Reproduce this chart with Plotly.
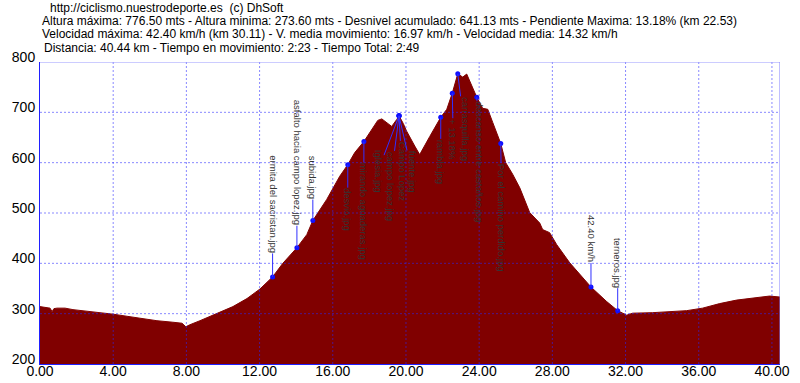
import plotly.graph_objects as go

# ---- profile data (km, elevation m) ----
km = [0.00, 0.55, 0.66, 0.76, 0.93, 1.37, 1.80, 2.73, 3.66, 3.99, 5.46, 6.39, 7.26, 7.76, 7.97,
      8.19, 8.74, 9.67, 10.54, 11.31, 12.02, 12.71, 13.27, 14.04, 14.58, 14.91, 15.46, 15.67,
      16.38, 16.82, 17.20, 17.70, 18.08, 18.46, 18.68, 18.95, 19.22, 19.50, 19.62, 19.85, 20.03,
      20.48, 20.75, 21.30, 21.90, 22.23, 22.53, 22.83, 23.10, 23.32, 23.59, 23.87, 24.19, 24.47,
      24.74, 25.18, 25.45, 25.83, 26.22, 26.76, 27.31, 27.47, 27.85, 28.24, 28.95, 30.11, 30.97,
      31.57, 32.06, 32.39, 33.48, 35.34, 36.21, 37.14, 38.07, 38.94, 39.87, 40.44]
elev = [314, 311, 304, 310, 311, 311, 308, 304, 301, 299, 291, 286, 283, 281, 274,
        278, 286, 300, 314, 330, 349, 373, 400, 431, 457, 485, 517, 527,
        573, 596, 620, 642, 663, 684, 687, 680, 672, 686, 693, 678, 663,
        633, 616, 652, 690, 706, 738, 776.5, 770, 776, 752, 730, 708, 706,
        680, 638, 600, 577, 550, 501, 480, 467, 461, 437, 401, 353, 324,
        306, 297, 301, 302, 306, 311, 320, 327, 331, 335, 333]

# ---- waypoint labels ----
wp_km = [12.71, 14.04, 14.91, 16.82, 17.70, 19.62, 19.62, 19.62, 19.62, 21.90, 22.53, 22.83,
         23.87, 25.18, 30.11, 31.57]
wp_elev = [373, 431, 485, 596, 642, 693, 693, 693, 693, 690, 738, 776.5, 730, 638, 353, 306]
wp_text = ["ermita del sacristan.jpg", "asfalto hacia campo lopez.jpg", "subida.jpg", "desvio.jpg",
           "mirando aguaderas.jpg", "Iglesia.jpg", "campo lopez.jpg", "Campo Lopez", "fuente.jpg",
           "rambla.jpg", "+ 13.18%", "carrasquilla.jpg", "descanso entre castaños.jpg",
           "Por el camino perdido.jpg", "42.40 km/h", "terneros.jpg"]
# label offsets (pixels) from marker
wp_ax = [0, 0, 0, 0, 0, -21, -9, 3, 13, 0, 1, 7, 3, 1, 0, 0]
wp_ay = [-73, -85, -43, 45, 70, 55, 70, 55, 56, 44, 46, 55, 65, 74, -48, -48]

# ---- axes ----
x_ticks = [0, 4, 8, 12, 16, 20, 24, 28, 32, 36, 40]
y_ticks = [200, 300, 400, 500, 600, 700, 800]
x_max = 40.44

header = [
    "http://ciclismo.nuestrodeporte.es  (c) DhSoft",
    "Altura máxima: 776.50 mts - Altura minima: 273.60 mts - Desnivel acumulado: 641.13 mts - Pendiente Maxima: 13.18% (km 22.53)",
    "Velocidad máxima: 42.40 km/h (km 30.11) - V. media movimiento: 16.97 km/h - Velocidad media: 14.32 km/h",
    "Distancia: 40.44 km - Tiempo en movimiento: 2:23 - Tiempo Total: 2:49",
]
header_x = [48, 40, 40, 42]
header_y = [7.5, 21, 34, 47.5]

W, H = 800, 383
ML, MR, MT, MB = 40, 20, 62, 19
PW, PH = W - ML - MR, H - MT - MB

fig = go.Figure()
fig.add_trace(go.Scatter(x=km, y=elev, mode="lines", fill="tozeroy",
                         fillcolor="#800000", line=dict(color="#800000", width=1),
                         hoverinfo="skip"))
fig.add_trace(go.Scatter(x=wp_km, y=wp_elev, mode="markers",
                         marker=dict(color="#1010ff", size=5), hoverinfo="skip"))

grid = dict(color="rgba(40,40,255,0.55)", width=1, dash="2px,2px")
shapes = []
for xv in x_ticks[1:]:
    shapes.append(dict(type="line", xref="x", yref="y", x0=xv, x1=xv, y0=200, y1=800,
                       line=grid, layer="above"))
for yv in y_ticks[1:-1]:
    shapes.append(dict(type="line", xref="x", yref="y", x0=0, x1=x_max, y0=yv, y1=yv,
                       line=grid, layer="above"))
# top / right border
shapes.append(dict(type="line", xref="x", yref="y", x0=0, x1=x_max, y0=800, y1=800,
                   line=dict(color="#9a9aff", width=1), layer="above"))
shapes.append(dict(type="line", xref="x", yref="y", x0=x_max, x1=x_max, y0=200, y1=800,
                   line=dict(color="#8080ff", width=1), layer="above"))

annotations = []
for xk, ye, t, ax, ay in zip(wp_km, wp_elev, wp_text, wp_ax, wp_ay):
    annotations.append(dict(x=xk, y=ye, xref="x", yref="y", text=t, textangle=90,
                            showarrow=True, arrowhead=0, arrowwidth=1, arrowcolor="#3030ff",
                            ax=ax, ay=ay, standoff=0, borderpad=0,
                            font=dict(family="Liberation Sans, Arial", size=9.5, color="#333333")))
for t, hx, hy in zip(header, header_x, header_y):
    annotations.append(dict(x=(hx - ML) / PW, y=1 + (MT - hy) / PH, xref="paper", yref="paper",
                            text=t, showarrow=False, xanchor="left", yanchor="middle",
                            font=dict(family="Liberation Sans, Arial", size=12, color="#000000")))

fig.update_layout(
    width=W, height=H,
    margin=dict(l=ML, r=MR, t=MT, b=MB, pad=0),
    paper_bgcolor="white", plot_bgcolor="white",
    showlegend=False,
    shapes=shapes, annotations=annotations,
    font=dict(family="Liberation Sans, Arial", size=14, color="#000000"),
    xaxis=dict(range=[0, x_max], tickvals=x_ticks, ticktext=[f"{v:.2f}" for v in x_ticks],
               showgrid=False, zeroline=False, showline=True, linecolor="#2020ff", linewidth=1,
               ticks="", ticklabelstandoff=-6, tickfont=dict(size=14), automargin=False,
               fixedrange=True),
    yaxis=dict(range=[200, 800], tickvals=y_ticks, ticktext=[str(v) for v in y_ticks],
               showgrid=False, zeroline=False, showline=True, linecolor="#2020ff", linewidth=1,
               ticks="", ticklabelstandoff=1, ticklabelshift=-5, tickfont=dict(size=14),
               automargin=False, fixedrange=True),
)

fig.write_html("out.html", config={"displayModeBar": False})
